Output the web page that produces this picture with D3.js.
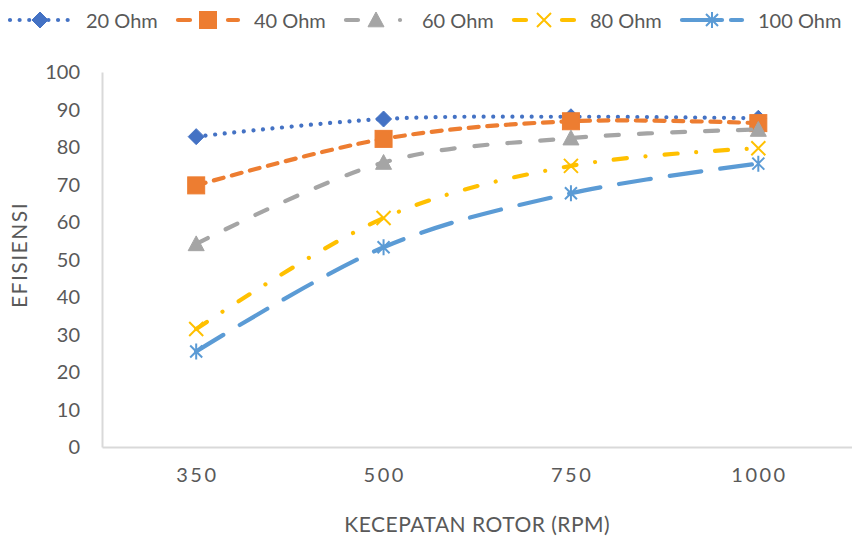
<!DOCTYPE html>
<html>
<head>
<meta charset="utf-8">
<script src="https://cdn.jsdelivr.net/npm/d3@7"></script>
<style>
  html, body { margin: 0; padding: 0; background: #ffffff; }
  svg { display: block; font-family: Lato, "Open Sans", sans-serif; }
</style>
</head>
<body>
<svg id="chart" width="853" height="538"></svg>
<script>
// ---- Data ----
const categories = ["350", "500", "750", "1000"];
const seriesNames = ["20 Ohm", "40 Ohm", "60 Ohm", "80 Ohm", "100 Ohm"];
const ohm20  = [82.9, 87.6, 88.2, 87.8];
const ohm40  = [69.9, 82.3, 87.0, 86.5];
const ohm60  = [54.3, 76.0, 82.5, 84.8];
const ohm80  = [31.6, 61.2, 75.1, 79.8];
const ohm100 = [25.6, 53.4, 67.8, 75.7];
const yTicks = [0, 10, 20, 30, 40, 50, 60, 70, 80, 90, 100];
const xTitle = "KECEPATAN ROTOR (RPM)";
const yTitle = "EFISIENSI";

const seriesValues = [ohm20, ohm40, ohm60, ohm80, ohm100];

// ---- Styles ----
const styles = [
  { color: "#4472C4", dash: "0.01 9.6", legendDash: "0.01 9.6", marker: "diamond" },
  { color: "#ED7D31", dash: "10 8.6", legendDash: "12 38 12", marker: "square" },
  { color: "#A5A5A5", dash: "13 20", legendDash: "12 42 0.01", marker: "triangle" },
  { color: "#FFC000", dash: "13 18.7 0.01 19", legendDash: "12 36 12", marker: "x" },
  { color: "#5B9BD5", dash: "32 19", legendDash: "40 9 12", marker: "asterisk" }
];
const textColor = "#595959";
const axisColor = "#D9D9D9";

const svg = d3.select("#chart");
const plot = { left: 102.5, right: 852, top: 72.5, bottom: 447.5 };

const x = d3.scaleBand().domain(categories).range([plot.left, plot.right]).padding(0);
const y = d3.scaleLinear().domain([0, 100]).range([plot.bottom, plot.top]);
const cx = c => x(c) + x.bandwidth() / 2;

// ---- Axes lines ----
svg.append("line")
  .attr("x1", plot.left).attr("x2", plot.left)
  .attr("y1", y(100)).attr("y2", y(0))
  .attr("stroke", axisColor).attr("stroke-width", 2);
svg.append("line")
  .attr("x1", plot.left).attr("x2", plot.right)
  .attr("y1", y(0)).attr("y2", y(0))
  .attr("stroke", axisColor).attr("stroke-width", 2);

// ---- Y axis labels via d3 axis ----
const yAxis = d3.axisLeft(y).tickValues(yTicks).tickSize(0).tickPadding(0).tickFormat(d3.format("d"));
const gy = svg.append("g").attr("transform", `translate(80,0)`).call(yAxis);
gy.select(".domain").remove();
gy.selectAll("text")
  .attr("fill", textColor)
  .style("font-family", "Lato, sans-serif")
  .style("font-size", "20px");

// ---- X axis labels via d3 axis ----
const xAxis = d3.axisBottom(x).tickSize(0).tickPadding(0);
const gx = svg.append("g").attr("transform", `translate(0,468)`).call(xAxis);
gx.select(".domain").remove();
gx.selectAll("text")
  .attr("fill", textColor)
  .attr("dy", "0.72em")
  .attr("dx", "1.2")
  .style("font-family", "Lato, sans-serif")
  .style("font-size", "20px")
  .style("letter-spacing", "2.5px");

// ---- Titles ----
svg.append("text")
  .attr("x", (plot.left + plot.right) / 2)
  .attr("y", 532)
  .attr("text-anchor", "middle")
  .attr("fill", textColor)
  .style("font-size", "21px")
  .style("letter-spacing", "0.5px")
  .text(xTitle);

svg.append("text")
  .attr("transform", "translate(27,255) rotate(-90)")
  .attr("text-anchor", "middle")
  .attr("fill", textColor)
  .style("font-size", "21px")
  .style("letter-spacing", "1.5px")
  .text(yTitle);

// ---- Marker drawing ----
function drawMarker(g, type, color, px, py) {
  if (type === "diamond") {
    const r = 8;
    g.append("path")
      .attr("d", `M${px},${py - r}L${px + r},${py}L${px},${py + r}L${px - r},${py}Z`)
      .attr("fill", color).attr("stroke", color).attr("stroke-width", 1);
  } else if (type === "square") {
    const r = 8.5;
    g.append("rect")
      .attr("x", px - r).attr("y", py - r).attr("width", 2 * r).attr("height", 2 * r)
      .attr("fill", color).attr("stroke", color).attr("stroke-width", 1);
  } else if (type === "triangle") {
    const r = 8;
    g.append("path")
      .attr("d", `M${px},${py - r}L${px + r},${py + r * 0.85}L${px - r},${py + r * 0.85}Z`)
      .attr("fill", color).attr("stroke", color).attr("stroke-width", 1);
  } else if (type === "x") {
    const r = 7;
    g.append("path")
      .attr("d", `M${px - r},${py - r}L${px + r},${py + r}M${px + r},${py - r}L${px - r},${py + r}`)
      .attr("fill", "none").attr("stroke", color).attr("stroke-width", 2);
  } else if (type === "asterisk") {
    const r = 8;
    const d = r * 0.75;
    g.append("path")
      .attr("d", `M${px},${py - r}L${px},${py + r}M${px - d},${py - d}L${px + d},${py + d}M${px + d},${py - d}L${px - d},${py + d}`)
      .attr("fill", "none").attr("stroke", color).attr("stroke-width", 2);
  }
}

// ---- Series ----
const line = d3.line()
  .x((d, i) => cx(categories[i]))
  .y(d => y(d))
  .curve(d3.curveCardinal.tension(0));

seriesValues.forEach((vals, si) => {
  const st = styles[si];
  const g = svg.append("g");
  g.append("path")
    .datum(vals)
    .attr("d", line)
    .attr("fill", "none")
    .attr("stroke", st.color)
    .attr("stroke-width", 4.2)
    .attr("stroke-linecap", "round")
    .attr("stroke-dasharray", st.dash);
  vals.forEach((v, i) => drawMarker(g, st.marker, st.color, cx(categories[i]), y(v)));
});

// ---- Legend ----
const legend = svg.append("g");
const ly = 20;
seriesNames.forEach((name, si) => {
  const st = styles[si];
  const lx = 8 + si * 168;
  const item = legend.append("g");
  item.append("line")
    .attr("x1", lx + 2).attr("x2", lx + 62)
    .attr("y1", ly).attr("y2", ly)
    .attr("stroke", st.color)
    .attr("stroke-width", 4.2)
    .attr("stroke-linecap", "round")
    .attr("stroke-dasharray", st.legendDash);
  drawMarker(item, st.marker, st.color, lx + 32, ly);
  item.append("text")
    .attr("x", lx + 78)
    .attr("y", ly + 7.5)
    .attr("fill", textColor)
    .style("font-size", "20px")
    .text(name);
});
</script>
</body>
</html>
